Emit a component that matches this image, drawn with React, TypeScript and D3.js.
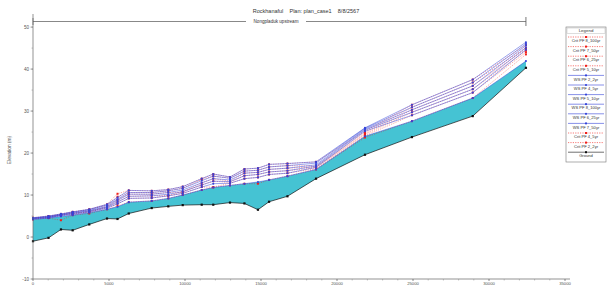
import React from 'react';
import * as d3 from 'd3';

// stations along main channel (m)
const stations = [0, 1020, 1840, 2610, 3700, 4870, 5560, 6300, 7810, 8900, 9850, 11100, 11860, 12960, 13910, 14800, 15530, 16740, 18620, 21840, 24930, 28930, 32430];
const ground = [-1.0, -0.2, 1.8, 1.6, 3.0, 4.4, 4.3, 5.6, 6.9, 7.3, 7.6, 7.7, 7.7, 8.2, 8.0, 6.5, 8.4, 9.7, 13.9, 19.6, 23.8, 28.8, 40.3];

const ws2 = [4.2, 4.5, 4.9, 5.2, 5.8, 6.6, 7.2, 8.3, 8.6, 9.2, 10.0, 11.2, 11.8, 12.3, 12.7, 13.1, 13.6, 14.5, 16.1, 24.0, 27.6, 33.1, 41.9];
const ws4 = [4.3, 4.6, 5.1, 5.4, 6.0, 6.9, 7.9, 9.2, 9.3, 9.8, 10.4, 11.9, 12.7, 12.8, 13.9, 14.2, 14.9, 15.2, 16.6, 25.2, 29.0, 34.4, 44.6];
const ws5 = [4.4, 4.7, 5.2, 5.6, 6.2, 7.1, 8.3, 9.7, 9.8, 10.2, 10.8, 12.4, 13.3, 13.2, 14.6, 14.9, 15.5, 15.8, 16.9, 25.5, 29.7, 35.2, 45.1];
const ws6 = [4.5, 4.8, 5.3, 5.7, 6.3, 7.3, 8.7, 10.2, 10.2, 10.6, 11.2, 12.9, 13.9, 13.6, 15.2, 15.4, 16.1, 16.4, 17.2, 25.7, 30.3, 36.0, 45.6];
const ws7 = [4.5, 4.9, 5.4, 5.9, 6.5, 7.6, 9.0, 10.6, 10.6, 11.0, 11.6, 13.4, 14.5, 14.0, 15.7, 15.9, 16.7, 17.0, 17.6, 25.9, 30.9, 36.8, 46.0];
const ws8 = [4.6, 5.0, 5.5, 6.0, 6.6, 7.8, 9.4, 11.1, 11.0, 11.3, 12.0, 13.9, 15.0, 14.3, 16.2, 16.4, 17.3, 17.5, 17.9, 26.0, 31.5, 37.5, 46.4];

const crit2 = [4.2, 4.5, 4.0, 5.2, 5.6, 6.6, 7.4, 8.3, 8.6, 9.2, 10.0, 11.2, 11.8, 12.3, 12.7, 12.7, 13.6, 14.5, 16.1, 23.7, 27.6, 33.1, 43.5];
const crit4 = [4.3, 4.6, 5.1, 5.4, 6.0, 6.9, 7.9, 9.2, 9.3, 9.8, 10.4, 11.9, 11.9, 12.8, 13.9, 14.2, 14.9, 15.2, 16.3, 24.1, 29.0, 34.4, 44.0];
const crit5 = [4.4, 4.7, 5.2, 5.6, 6.2, 7.1, 8.4, 9.7, 9.8, 9.9, 10.8, 12.4, 13.3, 13.0, 14.6, 14.9, 15.5, 15.8, 16.5, 24.4, 29.7, 35.2, 44.4];
const crit6 = [4.5, 4.8, 5.3, 5.7, 5.9, 7.3, 8.9, 10.2, 10.2, 10.6, 10.7, 12.9, 13.9, 13.3, 15.2, 15.4, 16.1, 16.4, 16.7, 24.6, 30.3, 36.0, 44.8];
const crit7 = [4.5, 4.9, 5.4, 5.9, 6.5, 7.6, 9.6, 10.6, 10.6, 11.0, 11.6, 13.7, 14.5, 14.0, 15.7, 15.9, 16.7, 17.0, 16.9, 24.9, 30.9, 36.8, 45.1];
const crit8 = [4.6, 5.0, 5.5, 6.0, 6.6, 7.8, 10.3, 11.1, 11.0, 11.3, 12.0, 13.9, 15.0, 14.3, 16.2, 16.4, 17.3, 17.5, 17.9, 25.2, 31.5, 37.5, 45.7];

const xTicks = [0, 5000, 10000, 15000, 20000, 25000, 30000, 35000];
const yTicks = [-10, 0, 10, 20, 30, 40, 50];

const legendNames = ['Crit PF 8_100yr', 'Crit PF 7_50yr', 'Crit PF 6_25yr', 'Crit PF 5_10yr', 'WS PF 2_2yr', 'WS PF 4_5yr', 'WS PF 5_10yr', 'WS PF 8_100yr', 'WS PF 6_25yr', 'WS PF 7_50yr', 'Crit PF 4_5yr', 'Crit PF 2_2yr', 'Ground'];
const legendKinds = ['crit', 'crit', 'crit', 'crit', 'ws', 'ws', 'ws', 'ws', 'ws', 'ws', 'crit', 'crit', 'ground'];

const W = 608;
const H = 285;
const BLUE = '#3544d8';
const RED = '#f0201a';
const WATER = '#45c3d3';
const FONT = 'Arial, "Liberation Sans", sans-serif';

export default function App() {
  const x = d3.scaleLinear().domain([0, 35000]).range([33, 565]);
  const y = d3.scaleLinear().domain([-10, 53]).range([279, 14.5]);

  const idx = stations.map((_, i) => i);
  const lineOf = (vals: number[]) =>
    d3.line<number>().x(i => x(stations[i])).y(i => y(vals[i]))(idx) || '';
  const water = d3.area<number>()
    .x(i => x(stations[i]))
    .y0(i => y(ground[i]))
    .y1(i => y(ws2[i]))(idx) || '';

  const wsSet = [ws2, ws4, ws5, ws6, ws7, ws8];
  const critSet = [crit2, crit4, crit5, crit6, crit7, crit8];

  const xMinor = d3.range(0, 35001, 1000);
  const yMinor = d3.range(-10, 53, 5);

  return (
    <svg width={W} height={H} style={{ position: 'absolute', left: 0, top: 0, background: '#fff' }} fontFamily={FONT}>
      {/* title */}
      <text x={306} y={13} fontSize={5.5} textAnchor="middle" fill="#333">
        Rockhanaful{'\u00a0\u00a0\u00a0\u00a0'}Plan: plan_case1{'\u00a0\u00a0\u00a0\u00a0'}8/8/2567
      </text>
      {/* reach line */}
      <line x1={x(0)} x2={x(stations[stations.length - 1])} y1={21.5} y2={21.5} stroke="#555" strokeWidth={0.7} />
      <line x1={x(0)} x2={x(0)} y1={18} y2={25} stroke="#555" strokeWidth={0.7} />
      <line x1={x(stations[stations.length - 1])} x2={x(stations[stations.length - 1])} y1={17} y2={26} stroke="#555" strokeWidth={0.8} />
      <rect x={246} y={18.5} width={60} height={6} fill="#fff" />
      <text x={276} y={23.3} fontSize={4.6} textAnchor="middle" fill="#333">Nongpladuk upstream</text>

      {/* water fill */}
      <path d={water} fill={WATER} stroke="none" />

      {/* critical depth lines */}
      {critSet.map((c, k) => (
        <g key={'c' + k}>
          <path d={lineOf(c)} fill="none" stroke={RED} strokeWidth={0.5} strokeDasharray="1.2,1.2" opacity={0.8} />
          {c.map((v, i) => (
            <rect key={i} x={x(stations[i]) - 1} y={y(v) - 1} width={2} height={2} fill={RED} />
          ))}
        </g>
      ))}

      {/* water surface lines */}
      {wsSet.map((w, k) => (
        <g key={'w' + k}>
          <path d={lineOf(w)} fill="none" stroke={BLUE} strokeWidth={0.5} />
          {w.map((v, i) => (
            <circle key={i} cx={x(stations[i])} cy={y(v)} r={1.05} fill={BLUE} />
          ))}
        </g>
      ))}

      {/* ground */}
      <path d={lineOf(ground)} fill="none" stroke="#111" strokeWidth={0.7} />
      {ground.map((v, i) => (
        <rect key={i} x={x(stations[i]) - 1.1} y={y(v) - 1.1} width={2.2} height={2.2} fill="#111" />
      ))}

      {/* y axis */}
      <line x1={33} x2={33} y1={14} y2={279} stroke="#666" strokeWidth={0.7} />
      {yMinor.map(v => (
        <line key={'ym' + v} x1={31.5} x2={33} y1={y(v)} y2={y(v)} stroke="#888" strokeWidth={0.5} />
      ))}
      {yTicks.map(v => (
        <g key={'y' + v}>
          <line x1={30.5} x2={33} y1={y(v)} y2={y(v)} stroke="#666" strokeWidth={0.6} />
          <text x={29} y={y(v) + 1.6} fontSize={4.6} textAnchor="end" fill="#555">{v}</text>
        </g>
      ))}
      <text transform="translate(11,150) rotate(-90)" fontSize={4.8} textAnchor="middle" fill="#555">Elevation (m)</text>

      {/* x axis */}
      <line x1={33} x2={570} y1={279} y2={279} stroke="#666" strokeWidth={0.7} />
      {xMinor.map(v => (
        <line key={'xm' + v} x1={x(v)} x2={x(v)} y1={279} y2={280.5} stroke="#888" strokeWidth={0.5} />
      ))}
      {xTicks.map(v => (
        <g key={'x' + v}>
          <line x1={x(v)} x2={x(v)} y1={279} y2={281} stroke="#666" strokeWidth={0.6} />
          <text x={x(v)} y={284.6} fontSize={4.2} textAnchor="middle" fill="#555">{v}</text>
        </g>
      ))}

      {/* legend */}
      <rect x={566} y={27} width={40} height={135} fill="#fff" stroke="#777" strokeWidth={0.6} />
      <rect x={567} y={28} width={38} height={5.5} fill="#fff" stroke="#aaa" strokeWidth={0.4} />
      <text x={586} y={32.3} fontSize={4.4} textAnchor="middle" fill="#333">Legend</text>
      {legendNames.map((name, i) => {
        const ry = 37 + i * 9.6;
        const kind = legendKinds[i];
        const col = kind === 'crit' ? RED : kind === 'ws' ? BLUE : '#111';
        return (
          <g key={name}>
            <line x1={568} x2={604} y1={ry} y2={ry} stroke={col} strokeWidth={0.6}
              strokeDasharray={kind === 'crit' ? '1.2,1.2' : undefined} />
            {kind === 'ws'
              ? <circle cx={586} cy={ry} r={1.1} fill={col} />
              : <rect x={585} y={ry - 1} width={2} height={2} fill={col} />}
            <text x={586} y={ry + 5.2} fontSize={4.1} textAnchor="middle" fill="#333">{name}</text>
          </g>
        );
      })}
    </svg>
  );
}
